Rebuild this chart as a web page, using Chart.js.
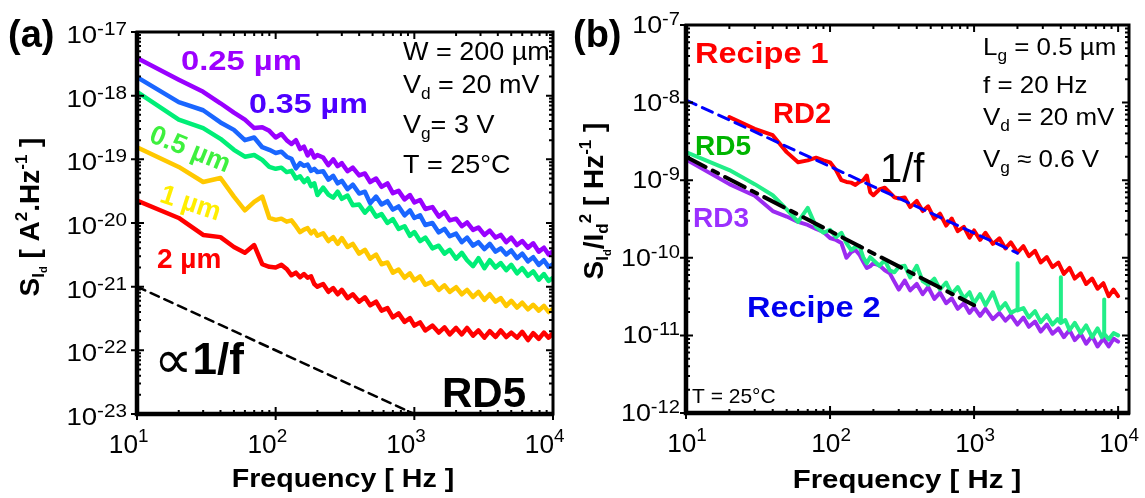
<!DOCTYPE html>
<html>
<head>
<meta charset="utf-8">
<title>Noise spectra RD5 / Recipe 1 vs 2</title>
<script src="https://cdn.jsdelivr.net/npm/chart.js"></script>
<style>
  body { margin: 0; background: #fff; }
  .wrap { position: relative; width: 1145px; height: 498px; }
  canvas { position: absolute; top: 0; }
  #chartA { left: 0; }
  #chartB { left: 572px; }
</style>
</head>
<body>
<div class="wrap">
  <canvas id="chartA" width="572" height="498"></canvas>
  <canvas id="chartB" width="573" height="498"></canvas>
</div>
<script>
// ---- panel (a): S_Id vs frequency, RD5, several gate lengths ----
const freqA = [10,20,30,40,50,60,70,80,90,100,110,120,130,140,150,160,170,180,190,200,
  220,240,260,280,300,330,360,400,440,480,530,580,640,700,770,850,930,1000,
  1100,1200,1350,1500,1650,1800,2000,2200,2400,2650,2900,3200,3500,3850,4200,4600,5000,
  5500,6000,6600,7200,7900,8600,9300,10000];

const s025 = [3.9e-18,1.78e-18,1.15e-18,7.6e-19,5.4e-19,4.2e-19,3.1e-19,3.2e-19,2.8e-19,2.2e-19,
  2.5e-19,2.0e-19,1.74e-19,2.0e-19,1.45e-19,1.58e-19,1.15e-19,1.38e-19,1.07e-19,1.17e-19,
  1.07e-19,8.1e-20,1.0e-19,7.8e-20,8.7e-20,
  6.5e-20,7.4e-20,5.6e-20,6.0e-20,4.4e-20,5.0e-20,3.7e-20,4.2e-20,2.95e-20,3.2e-20,2.35e-20,2.75e-20,2.1e-20,
  2.3e-20,1.66e-20,1.78e-20,1.26e-20,1.48e-20,1.1e-20,1.17e-20,
  8.9e-21,1.02e-20,7.8e-21,8.5e-21,6.5e-21,7.6e-21,5.9e-21,6.5e-21,5.0e-21,5.9e-21,
  4.5e-21,5.2e-21,4.1e-21,4.8e-21,3.55e-21,4.1e-21,3.2e-21,3.6e-21];

const s035 = [1.95e-18,7.9e-19,5.9e-19,3.8e-19,2.9e-19,2.0e-19,2.2e-19,1.55e-19,1.41e-19,1.26e-19,
  1.32e-19,1.1e-19,1.02e-19,7.2e-20,8.7e-20,7.9e-20,8.3e-20,6.6e-20,7.1e-20,6.3e-20,
  6.5e-20,4.8e-20,5.5e-20,4.2e-20,4.6e-20,
  3.4e-20,4.0e-20,2.9e-20,3.1e-20,2.05e-20,2.6e-20,1.95e-20,2.2e-20,1.62e-20,1.82e-20,1.32e-20,1.58e-20,1.2e-20,
  1.32e-20,9.3e-21,1.0e-20,7.1e-21,8.1e-21,6.2e-21,6.8e-21,
  5.0e-21,5.9e-21,4.4e-21,5.0e-21,3.9e-21,4.7e-21,3.55e-21,4.0e-21,3.2e-21,3.7e-21,
  2.8e-21,3.3e-21,2.5e-21,2.9e-21,2.2e-21,2.6e-21,2.05e-21,2.25e-21];

const s05 = [1.15e-18,4.2e-19,3.1e-19,2.1e-19,1.41e-19,1.1e-19,1.17e-19,9.8e-20,7.6e-20,7.1e-20,
  7.4e-20,6.3e-20,6.6e-20,5.0e-20,5.4e-20,4.4e-20,5.0e-20,3.8e-20,4.2e-20,2.75e-20,
  3.6e-20,2.8e-20,2.5e-20,3.1e-20,2.4e-20,
  2.7e-20,1.9e-20,1.95e-20,1.45e-20,1.78e-20,1.26e-20,1.38e-20,1.0e-20,1.15e-20,8.1e-21,8.9e-21,6.3e-21,7.2e-21,
  5.2e-21,5.9e-21,4.0e-21,4.4e-21,3.3e-21,3.8e-21,2.75e-21,
  3.4e-21,2.6e-21,2.1e-21,2.8e-21,1.95e-21,2.6e-21,2.0e-21,2.35e-21,1.82e-21,2.2e-21,
  1.62e-21,1.95e-21,1.48e-21,1.74e-21,1.29e-21,1.58e-21,1.23e-21,1.38e-21];

const s1 = [1.55e-19,7.6e-20,4.4e-20,5.1e-20,2.6e-20,1.58e-20,2.15e-20,2.6e-20,1.2e-20,1.12e-20,
  1.17e-20,1.05e-20,1.1e-20,8.9e-21,7.2e-21,7.9e-21,8.3e-21,6.9e-21,7.6e-21,6.3e-21,
  6.9e-21,5.2e-21,6.0e-21,4.7e-21,5.8e-21,
  4.2e-21,4.7e-21,3.3e-21,3.8e-21,2.75e-21,3.2e-21,2.25e-21,2.4e-21,1.66e-21,1.86e-21,1.38e-21,1.62e-21,1.26e-21,
  1.45e-21,1.07e-21,1.2e-21,8.9e-22,1.05e-21,8.3e-22,9.8e-22,
  7.6e-22,8.9e-22,6.9e-22,8.3e-22,6.2e-22,7.6e-22,5.8e-22,6.6e-22,5.0e-22,6.0e-22,
  4.7e-22,5.6e-22,4.4e-22,5.2e-22,4.2e-22,5.0e-22,4.0e-22,4.5e-22];

const s2 = [2.25e-20,1.2e-20,6.5e-21,6.0e-21,4.2e-21,3.4e-21,4.5e-21,2.25e-21,2.05e-21,2.0e-21,
  2.2e-21,1.9e-21,1.51e-21,1.66e-21,1.41e-21,1.58e-21,1.38e-21,1.45e-21,1.1e-21,1.0e-21,
  1.1e-21,8.3e-22,9.5e-22,7.6e-22,8.9e-22,
  6.6e-22,7.6e-22,5.8e-22,6.8e-22,5.1e-22,5.8e-22,4.2e-22,4.6e-22,3.3e-22,3.8e-22,2.8e-22,3.2e-22,2.45e-22,
  2.75e-22,2.05e-22,2.45e-22,1.9e-22,2.3e-22,1.78e-22,2.25e-22,
  1.78e-22,2.25e-22,1.7e-22,2.05e-22,1.58e-22,2.0e-22,1.62e-22,2.05e-22,1.62e-22,1.9e-22,
  1.58e-22,1.95e-22,1.45e-22,1.86e-22,1.51e-22,1.9e-22,1.58e-22,1.86e-22];

const guideAF = [10, 1000];
const guideAV = [1e-21, 1e-23];

// ---- panel (b): S_Id/Id^2, Recipe 1 (RD2) vs Recipe 2 (RD3, RD5) ----
const freqRD2 = [20,30,40,50,60,70,80,90,100,110,120,130,140,150,160,170,180,190,200,
  220,240,260,280,300,330,360,400,440,480,530,580,640,700,770,850,930,1000,
  1100,1200,1350,1500,1650,1800,2000,2200,2400,2650,2900,3200,3500,3850,4200,4600,5000,
  5500,6000,6600,7200,7900,8600,9300,10000];
const rd2 = [6.5e-9,4.6e-9,3.8e-9,2.3e-9,1.7e-9,1.8e-9,1.95e-9,1.8e-9,1.7e-9,1.35e-9,
  1.0e-9,9.5e-10,9.3e-10,8.7e-10,9.5e-10,1.0e-9,1.15e-9,7.0e-10,6.4e-10,
  7.6e-10,8.0e-10,6.9e-10,6.0e-10,5.8e-10,
  6.0e-10,4.5e-10,5.4e-10,4.0e-10,4.6e-10,3.2e-10,3.7e-10,2.6e-10,3.2e-10,2.2e-10,2.5e-10,1.82e-10,2.25e-10,
  1.7e-10,2.1e-10,1.51e-10,1.78e-10,1.32e-10,1.58e-10,1.17e-10,
  1.41e-10,1.05e-10,1.23e-10,8.7e-11,1.02e-10,7.6e-11,8.7e-11,6.2e-11,7.4e-11,5.4e-11,
  6.3e-11,4.6e-11,5.4e-11,4.0e-11,4.7e-11,3.2e-11,3.9e-11,3.2e-11];

const freqRD5 = [10,20,30,40,50,60,70,80,90,100,110,120,130,140,150,160,170,180,190,200,
  220,240,260,280,300,330,360,400,440,480,530,580,640,700,770,850,930,1000,
  1100,1200,1350,1500,1650,1800,1990,2000,2010,2200,2400,2650,2900,3200,3500,3800,
  3990,4000,4010,4300,4600,5000,5500,6000,6600,7200,7700,7990,8000,8010,8600,9300,10000];
const rd5 = [2.3e-9,1.35e-9,8.9e-10,6.4e-10,4.2e-10,2.9e-10,4.4e-10,2.5e-10,2.1e-10,2.3e-10,
  1.85e-10,2.1e-10,1.55e-10,1.26e-10,1.38e-10,1.41e-10,1.02e-10,8.5e-11,1.02e-10,9.3e-11,
  7.9e-11,9.3e-11,6.9e-11,6.5e-11,7.6e-11,
  7.9e-11,5.6e-11,7.9e-11,5.0e-11,4.5e-11,5.4e-11,3.9e-11,4.8e-11,3.4e-11,4.2e-11,3.0e-11,3.6e-11,2.6e-11,
  3.4e-11,2.45e-11,3.6e-11,2.15e-11,2.6e-11,1.95e-11,2.15e-11,8.5e-11,2.1e-11,
  2.25e-11,1.7e-11,2.05e-11,1.48e-11,1.82e-11,1.38e-11,1.62e-11,
  1.45e-11,5.6e-11,1.45e-11,1.58e-11,1.17e-11,1.45e-11,1.07e-11,1.35e-11,9.5e-12,1.23e-11,9.5e-12,
  1.07e-11,2.9e-11,1.05e-11,8.9e-12,1.07e-11,1.0e-11];

const freqRD3 = [10,20,30,40,50,60,70,80,90,100,110,120,130,140,150,160,170,180,190,200,
  220,240,260,280,300,330,360,400,440,480,530,580,640,700,770,850,930,1000,
  1100,1200,1350,1500,1650,1800,2000,2200,2400,2650,2900,3200,3500,3850,4200,4600,5000,
  5500,6000,6600,7200,7900,8600,9300,10000];
const rd3 = [1.85e-9,8.9e-10,6.3e-10,4.0e-10,3.4e-10,2.9e-10,2.65e-10,2.35e-10,2.15e-10,1.8e-10,
  1.7e-10,1.55e-10,1.0e-10,1.18e-10,1.26e-10,1.1e-10,8.9e-11,7.4e-11,7.8e-11,8.5e-11,
  8.0e-11,6.9e-11,6.3e-11,4.9e-11,3.9e-11,
  5.1e-11,3.8e-11,4.6e-11,3.4e-11,4.2e-11,2.95e-11,3.55e-11,2.6e-11,3.0e-11,2.2e-11,2.6e-11,1.95e-11,2.3e-11,
  1.78e-11,2.2e-11,1.62e-11,1.95e-11,1.55e-11,1.82e-11,1.38e-11,
  1.7e-11,1.29e-11,1.51e-11,1.12e-11,1.38e-11,1.05e-11,1.23e-11,9.5e-12,1.17e-11,8.7e-12,
  1.05e-11,7.8e-12,9.8e-12,7.2e-12,9.1e-12,7.2e-12,9.1e-12,8.3e-12];

const fitRD2F = [10, 2000];
const fitRD2V = [1.08e-8, 1.15e-10];
const fitR2F = [10, 1000];
const fitR2V = [2.0e-9, 2.45e-11];

const decadesA = [-23, -22, -21, -20, -19, -18, -17];
const decadesB = [-12, -11, -10, -9, -8, -7];
const decadesX = [1, 2, 3, 4];

// ---- helpers ----
const FAM = '"Liberation Sans", Arial, sans-serif';

function pts(xs, ys) {
  return xs.map((x, i) => ({ x: x, y: ys[i] }));
}

// draw text made of pieces [text, size, dy, weight, family]
function rich(ctx, parts, x, y, o) {
  o = o || {};
  const wt = o.bold ? 'bold ' : '';
  const fonts = parts.map(p => (p[3] != null ? p[3] : wt) + p[1] + 'px ' + (p[4] || FAM));
  let total = 0;
  const ws = parts.map((p, i) => {
    ctx.font = fonts[i];
    const w = ctx.measureText(p[0]).width;
    total += w;
    return w;
  });
  ctx.save();
  ctx.translate(x, y);
  if (o.rot) ctx.rotate(o.rot);
  ctx.scale(o.sx || 1, 1);
  ctx.fillStyle = o.color || '#000';
  ctx.textAlign = 'left';
  ctx.textBaseline = 'alphabetic';
  let cx = o.align === 'right' ? -total : (o.align === 'center' ? -total / 2 : 0);
  parts.forEach((p, i) => {
    ctx.font = fonts[i];
    ctx.fillText(p[0], cx, p[2] || 0);
    cx += ws[i];
  });
  ctx.restore();
}

function drawFrame(chart) {
  const ctx = chart.ctx, a = chart.chartArea;
  const xs = chart.scales.x, ys = chart.scales.y;
  function each(scale, fn) {
    const lo = Math.floor(Math.log10(scale.min)), hi = Math.ceil(Math.log10(scale.max));
    for (let k = lo; k <= hi; k++) {
      for (let m = 1; m < 10; m++) {
        const v = m * Math.pow(10, k);
        if (v < scale.min * 0.999 || v > scale.max * 1.001) continue;
        fn(scale.getPixelForValue(v), m === 1);
      }
    }
  }
  ctx.save();
  ctx.strokeStyle = '#000';
  ctx.lineWidth = 2;
  ctx.beginPath();
  each(xs, (p, major) => {
    const L = major ? 7 : 4;
    ctx.moveTo(p, a.bottom); ctx.lineTo(p, a.bottom - L);
    ctx.moveTo(p, a.top); ctx.lineTo(p, a.top + L);
    if (major) { ctx.moveTo(p, a.bottom); ctx.lineTo(p, a.bottom + 6); }
  });
  each(ys, (p, major) => {
    const L = major ? 7 : 4;
    ctx.moveTo(a.left, p); ctx.lineTo(a.left + L, p);
    ctx.moveTo(a.right, p); ctx.lineTo(a.right - L, p);
    if (major) { ctx.moveTo(a.left, p); ctx.lineTo(a.left - 6, p); }
  });
  ctx.stroke();
  ctx.lineWidth = 3;
  ctx.strokeRect(a.left, a.top, a.right - a.left, a.bottom - a.top);
  ctx.lineWidth = 4.5;
  ctx.beginPath();
  ctx.moveTo(a.left, a.top - 1); ctx.lineTo(a.left, a.bottom); ctx.lineTo(a.right + 1, a.bottom);
  ctx.stroke();
  ctx.restore();
}

const decorA = {
  id: 'decorA',
  afterDraw(chart) {
    const ctx = chart.ctx;
    const xs = chart.scales.x, ys = chart.scales.y;
    drawFrame(chart);
    decadesA.forEach(k => {
      const py = ys.getPixelForValue(Math.pow(10, k));
      rich(ctx, [['10', 24], [String(k), 18, -8]], 127, py + 11, { align: 'right', sx: 1.15 });
    });
    ctx.font = '25px ' + FAM;
    const w10 = ctx.measureText('10').width;
    decadesX.forEach(k => {
      const px = xs.getPixelForValue(Math.pow(10, k));
      rich(ctx, [['10', 25], [String(k), 18, -11]], px + 1 - w10 * 1.05, 453, { sx: 1.05 });
    });
    rich(ctx, [['Frequency [ Hz ]', 26]], 343, 487, { bold: true, align: 'center', sx: 1.1 });
    rich(ctx, [['S', 28], ['I', 17, 5], ['d', 11, 8], [' [ A', 28], ['2', 17, -12], ['.Hz', 28], ['-1', 17, -12], [' ]', 28]],
      39, 217, { bold: true, align: 'center', rot: -Math.PI / 2, sx: 1.0 });

    rich(ctx, [['(a)', 38]], 8, 47, { bold: true });
    rich(ctx, [['0.25 µm', 28]], 181, 70, { bold: true, color: '#9c00ff', sx: 1.17 });
    rich(ctx, [['0.35 µm', 28]], 249, 113, { bold: true, color: '#4d00ff', sx: 1.15 });
    rich(ctx, [['0.5 µm', 27]], 187, 157, { bold: true, color: '#3ef03e', align: 'center', rot: 22 * Math.PI / 180 });
    rich(ctx, [['1 µm', 27]], 188, 211, { bold: true, color: '#ffee00', align: 'center', rot: 18 * Math.PI / 180 });
    rich(ctx, [['2 µm', 28]], 157, 268, { bold: true, color: '#ff0000' });

    rich(ctx, [['W = 200 µm', 25]], 403, 60, { sx: 1.08 });
    rich(ctx, [['V', 25], ['d', 16, 6], [' = 20 mV', 25]], 403, 93, { sx: 1.08 });
    rich(ctx, [['V', 25], ['g', 16, 6], ['= 3 V', 25]], 403, 133, { sx: 1.08 });
    rich(ctx, [['T = 25°C', 25]], 403, 173, { sx: 1.08 });

    rich(ctx, [['∝', 54, 4, '', '"DejaVu Sans", sans-serif'], ['1/f', 44, 0, 'bold ']], 154, 374, {});
    rich(ctx, [['RD5', 42]], 442, 407, { bold: true });
  }
};

const decorB = {
  id: 'decorB',
  afterDraw(chart) {
    const ctx = chart.ctx;
    const xs = chart.scales.x, ys = chart.scales.y;
    drawFrame(chart);
    decadesB.forEach(k => {
      const py = ys.getPixelForValue(Math.pow(10, k));
      rich(ctx, [['10', 24], [String(k), 18, -8]], 108, py + 8, { align: 'right', sx: 1.12 });
    });
    decadesX.forEach(k => {
      const px = xs.getPixelForValue(Math.pow(10, k));
      rich(ctx, [['10', 25], [String(k), 18, -11]], px + 1, 452, { align: 'center', sx: 1.05 });
    });
    rich(ctx, [['Frequency [ Hz ]', 26]], 335, 488, { bold: true, align: 'center', sx: 1.13 });
    rich(ctx, [['S', 28], ['I', 17, 5], ['d', 11, 8], ['/I', 28], ['d', 17, 5], ['2', 17, -12], [' [ Hz', 28], ['-1', 17, -12], [' ]', 28]],
      31, 201, { bold: true, align: 'center', rot: -Math.PI / 2, sx: 1.0 });

    rich(ctx, [['(b)', 38]], 1, 47, { bold: true });
    rich(ctx, [['Recipe 1', 29]], 123, 63, { bold: true, color: '#ff0000', sx: 1.12 });
    rich(ctx, [['RD2', 29]], 201, 123, { bold: true, color: '#ff0000' });
    rich(ctx, [['RD5', 28]], 123, 155, { bold: true, color: '#00b400' });
    rich(ctx, [['RD3', 28]], 121, 227, { bold: true, color: '#9b30ff' });
    rich(ctx, [['1/f', 40]], 308, 182, {});
    rich(ctx, [['L', 24], ['g', 16, 6], [' = 0.5 µm', 24]], 411, 55, { sx: 1.08 });
    rich(ctx, [['f = 20 Hz', 24]], 411, 93, { sx: 1.08 });
    rich(ctx, [['V', 24], ['d', 16, 6], [' = 20 mV', 24]], 411, 125, { sx: 1.08 });
    rich(ctx, [['V', 24], ['g', 16, 6], [' ≈ 0.6 V', 24]], 411, 167, { sx: 1.08 });
    rich(ctx, [['Recipe 2', 29]], 175, 317, { bold: true, color: '#0000ee', sx: 1.12 });
    rich(ctx, [['T = 25°C', 21]], 120, 403, {});
  }
};

const common = {
  responsive: false,
  animation: false,
  devicePixelRatio: 1,
  plugins: { legend: { display: false }, tooltip: { enabled: false } },
  elements: {
    point: { radius: 0 },
    line: { tension: 0, borderJoinStyle: 'round', borderCapStyle: 'round' }
  }
};

new Chart(document.getElementById('chartA'), {
  type: 'line',
  data: {
    datasets: [
      { label: '0.25 µm', data: pts(freqA, s025), borderColor: '#9900ff', borderWidth: 4.5 },
      { label: '0.35 µm', data: pts(freqA, s035), borderColor: '#1a66ff', borderWidth: 4.5 },
      { label: '0.5 µm', data: pts(freqA, s05), borderColor: '#00ee77', borderWidth: 4.5 },
      { label: '1 µm', data: pts(freqA, s1), borderColor: '#ffc800', borderWidth: 4.5 },
      { label: '2 µm', data: pts(freqA, s2), borderColor: '#ff0000', borderWidth: 4.5 },
      { label: '1/f', data: pts(guideAF, guideAV), borderColor: '#000', borderWidth: 2.5, borderDash: [9, 6] }
    ]
  },
  options: Object.assign({}, common, {
    layout: { padding: { left: 137, top: 32, right: 19, bottom: 84 } },
    scales: {
      x: { type: 'logarithmic', min: 10, max: 1e4, display: false },
      y: { type: 'logarithmic', min: 1e-23, max: 1e-17, display: false }
    }
  }),
  plugins: [decorA]
});

new Chart(document.getElementById('chartB'), {
  type: 'line',
  data: {
    datasets: [
      { label: 'fit Recipe 2', data: pts(fitR2F, fitR2V), borderColor: '#000', borderWidth: 4, borderDash: [22, 8, 6, 8] },
      { label: 'fit Recipe 1', data: pts(fitRD2F, fitRD2V), borderColor: '#0000ff', borderWidth: 3, borderDash: [11, 7] },
      { label: 'RD5', data: pts(freqRD5, rd5), borderColor: '#22ee88', borderWidth: 4 },
      { label: 'RD3', data: pts(freqRD3, rd3), borderColor: '#9b2bf0', borderWidth: 4 },
      { label: 'RD2', data: pts(freqRD2, rd2), borderColor: '#ff0000', borderWidth: 4 }
    ]
  },
  options: Object.assign({}, common, {
    layout: { padding: { left: 114, top: 25, right: 16, bottom: 85 } },
    scales: {
      x: { type: 'logarithmic', min: 10, max: 11900, display: false },
      y: { type: 'logarithmic', min: 1e-12, max: 1e-7, display: false }
    }
  }),
  plugins: [decorB]
});
</script>
</body>
</html>
